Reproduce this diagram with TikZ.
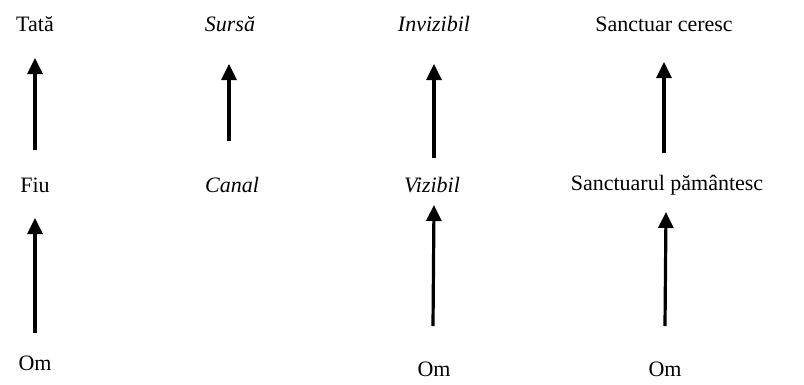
\documentclass[tikz,border=0pt]{standalone}
\usepackage{fontspec}
\setmainfont{Liberation Serif}
\usetikzlibrary{arrows.meta}
\tikzset{
  lbl/.style={font=\fontsize{22}{26}\selectfont, inner sep=0pt, anchor=center},
  ilbl/.style={lbl, font=\fontsize{22}{26}\selectfont\itshape},
  up/.style={line width=3.2pt, -{Triangle[width=15pt,length=16pt]}}
}
\begin{document}
\begin{tikzpicture}[x=1pt,y=-1pt]
\useasboundingbox (0,0) rectangle (804,384);
% column 1
\node[lbl] (tata) at (35,24) {Tată};
\node[lbl] (fiu) at (35,185) {Fiu};
\node[lbl] (om1) at (35,363) {Om};
\coordinate (a1s) at (35,150); \coordinate (a1e) at (35,58);
\coordinate (a5s) at (35,333); \coordinate (a5e) at (35,218);
% column 2
\node[ilbl] (sursa) at (230,24) {Sursă};
\node[ilbl] (canal) at (232,185) {Canal};
\coordinate (a2s) at (229,141); \coordinate (a2e) at (229,64);
% column 3
\node[ilbl] (inviz) at (434,24) {Invizibil};
\node[ilbl] (viz) at (432,185) {Vizibil};
\node[lbl] (om2) at (434,369) {Om};
\coordinate (a3s) at (434,158); \coordinate (a3e) at (434,64);
\coordinate (a6s) at (433,326); \coordinate (a6e) at (434,205);
% column 4
\node[lbl] (cer) at (664,24) {Sanctuar ceresc};
\node[lbl] (pam) at (667,185) {Sanctuarul pământesc};
\node[lbl] (om3) at (665,369) {Om};
\coordinate (a4s) at (664,153); \coordinate (a4e) at (664,62);
\coordinate (a7s) at (665,326); \coordinate (a7e) at (666,212);
% arrows
\draw[up] (a1s) -- (a1e);
\draw[up] (a5s) -- (a5e);
\draw[up] (a2s) -- (a2e);
\draw[up] (a3s) -- (a3e);
\draw[up] (a6s) -- (a6e);
\draw[up] (a4s) -- (a4e);
\draw[up] (a7s) -- (a7e);
\end{tikzpicture}
\end{document}
